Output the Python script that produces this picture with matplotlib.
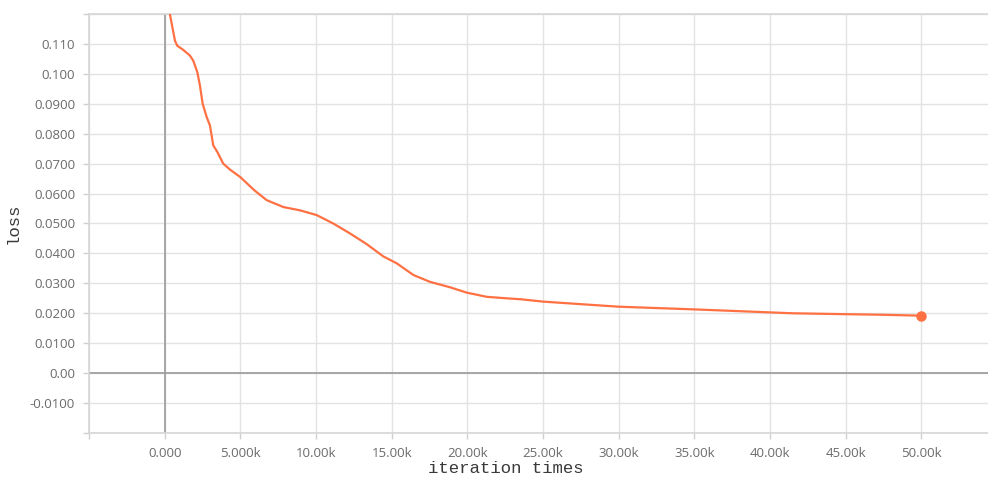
"""
Recreate the training loss curve (tensorboard style) and save to out.png
"""

import matplotlib.pyplot as plt
# import dependencies

steps = [0, 350, 680, 830, 1230, 1670, 1890, 2160, 2330, 2510, 2780, 2990,
         3210, 3480, 3870, 4320, 5000, 5900, 6740, 7840, 8940, 10050,
         11140, 12240, 13350, 14450, 15330, 16430, 17530, 18850, 19960,
         21280, 22600, 23500, 25000, 30000, 35000, 40000, 41500, 45000,
         47500, 50000]
loss = [0.130, 0.1198, 0.1111, 0.1094, 0.1080, 0.1061, 0.1044, 0.1005,
        0.0961, 0.0900, 0.0855, 0.0828, 0.0761, 0.0739, 0.0700, 0.0680,
        0.0655, 0.0612, 0.0578, 0.0555, 0.0544, 0.0528, 0.0500,
        0.0467, 0.0431, 0.0390, 0.0367, 0.0328, 0.0305, 0.0287, 0.0269,
        0.0255, 0.0250, 0.0247, 0.0239, 0.0222, 0.0213, 0.0203, 0.0200,
        0.0197, 0.0195, 0.0192]

xticks = [-5000, 0, 5000, 10000, 15000, 20000, 25000, 30000, 35000, 40000,
          45000, 50000]
xticklabels = ['', '0.000', '5.000k', '10.00k', '15.00k', '20.00k', '25.00k',
               '30.00k', '35.00k', '40.00k', '45.00k', '50.00k']
yticks = [-0.02, -0.01, 0.0, 0.01, 0.02, 0.03, 0.04, 0.05, 0.06, 0.07, 0.08,
          0.09, 0.10, 0.11, 0.12]
yticklabels = ['', '-0.0100', '0.00', '0.0100', '0.0200', '0.0300', '0.0400',
               '0.0500', '0.0600', '0.0700', '0.0800', '0.0900', '0.100',
               '0.110', '']

line_color = '#ff7043'
grid_color = '#e2e2e2'

fig = plt.figure(figsize=(9.88, 4.83), dpi=100)
ax = fig.add_axes([89 / 988, 50 / 483, 899 / 988, 419 / 483])

ax.plot(steps, loss, color=line_color, linewidth=1.6, solid_capstyle='round',
        solid_joinstyle='round', zorder=3)
ax.plot(steps[-1:], loss[-1:], 'o', color=line_color, markersize=6.5,
        zorder=4)

ax.axhline(0, color='#a0a0a0', linewidth=1.3, zorder=2)
ax.axvline(0, color='#a0a0a0', linewidth=1.3, zorder=2)

ax.set_xlim(-5000, 54400)
ax.set_ylim(-0.0199, 0.1198)
ax.set_xticks(xticks)
ax.set_xticklabels(xticklabels)
ax.set_yticks(yticks)
ax.set_yticklabels(yticklabels)
ax.grid(True, color=grid_color, linewidth=1, zorder=1)
ax.set_axisbelow(True)
# ticks and grid

for side in ['left', 'bottom', 'top']:
    ax.spines[side].set_color('#d6d6d6')
    ax.spines[side].set_linewidth(1.2)
ax.spines['right'].set_visible(False)

ax.tick_params(axis='both', colors='#d0d0d0', labelcolor='#6b6b6b',
               length=4, width=1, labelsize=9.5)
ax.tick_params(axis='x', pad=6)
ax.tick_params(axis='y', pad=6)
for lab in ax.get_xticklabels() + ax.get_yticklabels():
    lab.set_fontfamily('Open Sans')

ax.set_xlabel('iteration times', fontsize=12.5, family='Liberation Mono',
              color='#3a3a3a')
ax.set_ylabel('loss', fontsize=12.5, family='Liberation Mono',
              color='#3a3a3a')
ax.xaxis.set_label_coords(0.464, -0.067)
ax.yaxis.set_label_coords(-0.0756, 0.5)
# labels

plt.savefig('out.png', dpi=100)
